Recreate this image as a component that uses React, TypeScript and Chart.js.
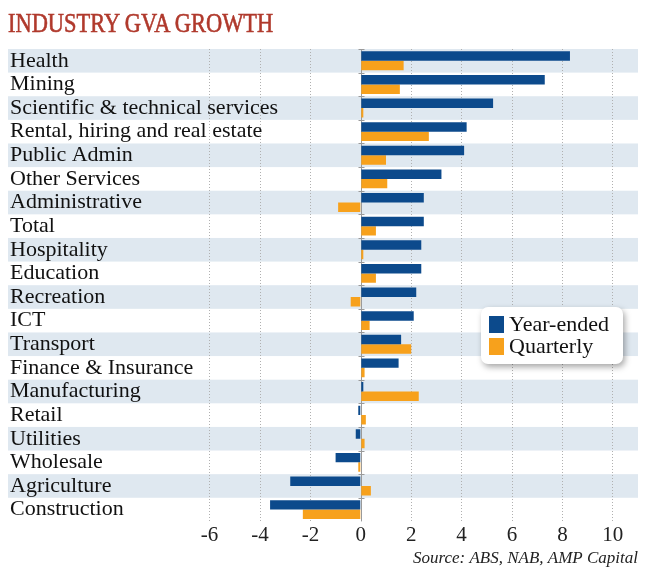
import React, { useEffect, useRef } from "react";
import { Chart, registerables } from "chart.js";

Chart.register(...registerables);

const categories = [
  "Health",
  "Mining",
  "Scientific & technical services",
  "Rental, hiring and real estate",
  "Public Admin",
  "Other Services",
  "Administrative",
  "Total",
  "Hospitality",
  "Education",
  "Recreation",
  "ICT",
  "Transport",
  "Finance & Insurance",
  "Manufacturing",
  "Retail",
  "Utilities",
  "Wholesale",
  "Agriculture",
  "Construction",
];

const yearEnded = [8.3, 7.3, 5.25, 4.2, 4.1, 3.2, 2.5, 2.5, 2.4, 2.4, 2.2, 2.1, 1.6, 1.5, 0.1, -0.1, -0.2, -1.0, -2.8, -3.6];
const quarterly = [1.7, 1.55, 0.1, 2.7, 1.0, 1.05, -0.9, 0.6, 0.1, 0.6, -0.4, 0.35, 2.0, 0.15, 2.3, 0.2, 0.15, -0.1, 0.4, -2.3];

const xTicks = [-6, -4, -2, 0, 2, 4, 6, 8, 10];
const xMin = -14;
const xMax = 11;

const seriesNames = ["Year-ended", "Quarterly"];
const seriesColors = ["#0c4a8c", "#f7a11c"];

const titleText = "INDUSTRY GVA GROWTH";
const sourceText = "Source: ABS, NAB, AMP Capital";

const FONT = "'Liberation Serif', 'Times New Roman', serif";

export default function App() {
  const ref = useRef<HTMLCanvasElement>(null);

  useEffect(() => {
    if (!ref.current) return;

    const bandPlugin = {
      id: "bands",
      beforeDraw(chart: any) {
        const { ctx, chartArea, scales } = chart;
        const y = scales.y;
        ctx.save();
        ctx.fillStyle = "#dfe8f0";
        categories.forEach((_c, i) => {
          if (i % 2 !== 0) return;
          const top = y.getPixelForValue(i - 0.5);
          const bottom = y.getPixelForValue(i + 0.5);
          ctx.fillRect(chartArea.left, top, chartArea.right - chartArea.left, bottom - top);
        });
        ctx.restore();
      },
    };

    const zeroPlugin = {
      id: "zeroLine",
      beforeDatasetsDraw(chart: any) {
        const { ctx, chartArea, scales } = chart;
        const x0 = Math.round(scales.x.getPixelForValue(0)) + 0.5;
        ctx.save();
        ctx.strokeStyle = "#9a9a9a";
        ctx.lineWidth = 1;
        ctx.beginPath();
        ctx.moveTo(x0, chartArea.top);
        ctx.lineTo(x0, chartArea.bottom);
        categories.forEach((_c, i) => {
          const yb = Math.round(scales.y.getPixelForValue(i - 0.5)) + 0.5;
          ctx.moveTo(x0 - 3, yb);
          ctx.lineTo(x0 + 3, yb);
        });
        ctx.stroke();
        ctx.restore();
      },
    };

    const legendPlugin = {
      id: "customLegend",
      afterDraw(chart: any) {
        const { ctx } = chart;
        const bx = 481, by = 307, bw = 142, bh = 57, r = 7;
        ctx.save();
        ctx.shadowColor = "rgba(0,0,0,0.35)";
        ctx.shadowBlur = 6;
        ctx.shadowOffsetX = 2;
        ctx.shadowOffsetY = 3;
        ctx.fillStyle = "#ffffff";
        ctx.beginPath();
        ctx.roundRect(bx, by, bw, bh, r);
        ctx.fill();
        ctx.restore();
        ctx.save();
        ctx.font = `22px ${FONT}`;
        ctx.textBaseline = "middle";
        ctx.textAlign = "left";
        seriesNames.forEach((name, i) => {
          const cy = by + 17.5 + i * 22;
          ctx.fillStyle = seriesColors[i];
          ctx.fillRect(bx + 8, cy - 8.5, 15, 17);
          ctx.fillStyle = "#111111";
          ctx.fillText(name, bx + 28, cy + 1);
        });
        ctx.restore();
      },
    };

    const chart = new Chart(ref.current, {
      type: "bar",
      data: {
        labels: categories,
        datasets: [
          {
            label: seriesNames[0],
            data: yearEnded,
            backgroundColor: seriesColors[0],
            categoryPercentage: 0.8,
            barPercentage: 1.0,
          },
          {
            label: seriesNames[1],
            data: quarterly,
            backgroundColor: seriesColors[1],
            categoryPercentage: 0.8,
            barPercentage: 1.0,
          },
        ],
      },
      plugins: [bandPlugin, zeroPlugin, legendPlugin],
      options: {
        indexAxis: "y",
        animation: false,
        responsive: true,
        maintainAspectRatio: false,
        layout: { padding: { left: 4, right: 12, top: 49, bottom: 3 } },
        plugins: {
          legend: { display: false },
          tooltip: { enabled: false },
          title: { display: false },
          subtitle: {
            display: true,
            text: sourceText,
            position: "bottom",
            align: "end",
            color: "#222222",
            font: { family: FONT, size: 17, style: "italic", weight: "normal" },
            padding: { top: 0, bottom: 0 },
          },
        },
        scales: {
          x: {
            type: "linear",
            min: xMin,
            max: xMax,
            afterBuildTicks: (scale: any) => {
              scale.ticks = xTicks.map((v) => ({ value: v }));
            },
            grid: {
              display: true,
              drawTicks: false,
              color: (c: any) => (c.tick && c.tick.value === 0 ? "rgba(0,0,0,0)" : "#b0b0b0"),
              lineWidth: 1,
            },
            border: { display: false, dash: [1, 2] },
            ticks: {
              padding: 1,
              color: "#222222",
              font: { family: FONT, size: 21 },
              maxRotation: 0,
              autoSkip: false,
            },
          },
          y: {
            type: "category",
            grid: { display: false, drawTicks: false },
            border: { display: false },
            ticks: {
              mirror: true,
              padding: 2,
              color: "#111111",
              font: { family: FONT, size: 22 },
              autoSkip: false,
            },
          },
        },
      },
    } as any);

    return () => chart.destroy();
  }, []);

  return (
    <div style={{ position: "absolute", left: 0, top: 0, width: 650, height: 572, background: "#ffffff" }}>
      <div
        style={{
          position: "absolute",
          left: 8,
          top: 10,
          fontFamily: FONT,
          fontSize: 27,
          lineHeight: "27px",
          color: "#b0392c",
          whiteSpace: "nowrap",
          transform: "scaleX(0.83)",
          transformOrigin: "left top",
          WebkitTextStroke: "0.6px #b0392c",
          zIndex: 2,
        }}
      >
        {titleText}
      </div>
      <div style={{ position: "absolute", left: 0, top: 0, width: 650, height: 572 }}>
        <canvas ref={ref} />
      </div>
    </div>
  );
}
